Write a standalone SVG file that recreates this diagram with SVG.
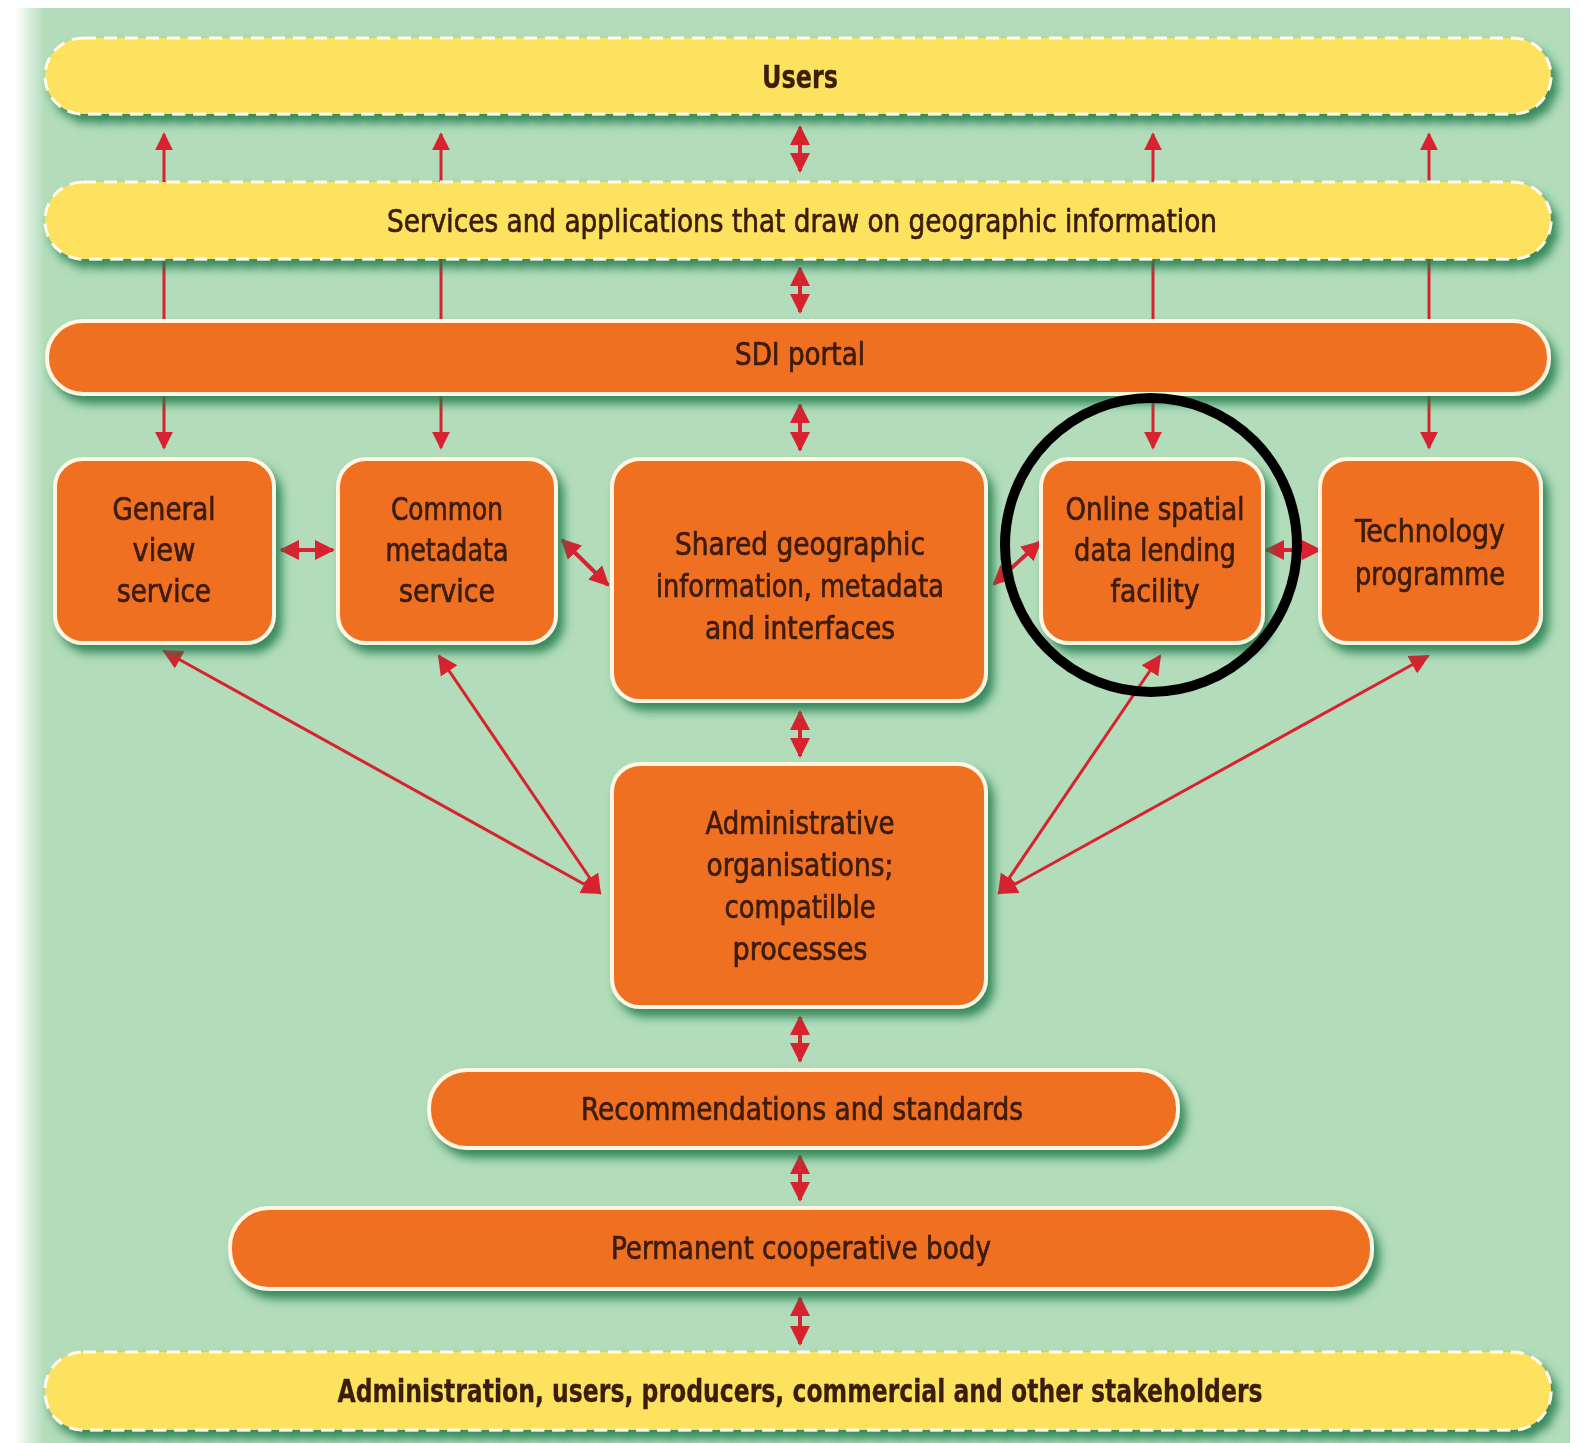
<svg xmlns="http://www.w3.org/2000/svg" width="1582" height="1443" viewBox="0 0 1582 1443">
<defs>
<style>
.bg{fill:#b2dcba}
.yb{fill:#fde25e;stroke:#fffbe8;stroke-width:3;stroke-dasharray:13 8}
.ob{fill:#f07022;stroke:#fff6e4;stroke-width:4}
.t{font-family:"DejaVu Sans Condensed","Liberation Sans",sans-serif;font-size:32px;fill:#3a1c0e;stroke:#3a1c0e;stroke-width:0.7;text-anchor:middle}
.b{font-weight:bold;stroke-width:0.3}
.c{stroke:#d8222f;stroke-width:3;fill:none}
.cc{stroke:#d8222f;stroke-width:4;fill:none}
</style>
<linearGradient id="lg" x1="0" x2="1" y1="0" y2="0">
<stop offset="0" stop-color="#ffffff"/><stop offset="1" stop-color="#b2dcba"/>
</linearGradient>
<filter id="sh" x="-10%" y="-20%" width="130%" height="160%">
<feDropShadow dx="6" dy="8" stdDeviation="5" flood-color="#1e7a4e" flood-opacity="0.85"/>
</filter>
<marker id="ah" viewBox="0 0 10 10" refX="9" refY="5" markerWidth="18" markerHeight="20" markerUnits="userSpaceOnUse" orient="auto-start-reverse">
<path d="M0,0 L10,5 L0,10 z" fill="#d8222f"/>
</marker>
<marker id="ahb" viewBox="0 0 10 10" refX="9" refY="5" markerWidth="20" markerHeight="22" markerUnits="userSpaceOnUse" orient="auto-start-reverse">
<path d="M0,0 L10,5 L0,10 z" fill="#d8222f"/>
</marker>
</defs>
<rect width="1582" height="1443" fill="#ffffff"/>
<rect x="15" y="8" width="1555" height="1435" class="bg"/>
<rect x="15" y="8" width="30" height="1435" fill="url(#lg)"/>

<g id="connectors">
<path class="c" d="M164,321 V134" marker-end="url(#ah)"/>
<path class="c" d="M441,321 V134" marker-end="url(#ah)"/>
<path class="c" d="M1153,321 V134" marker-end="url(#ah)"/>
<path class="c" d="M1429,321 V134" marker-end="url(#ah)"/>
<path class="c" d="M164,394 V448" marker-end="url(#ah)"/>
<path class="c" d="M441,394 V448" marker-end="url(#ah)"/>
<path class="c" d="M1153,394 V448" marker-end="url(#ah)"/>
<path class="c" d="M1429,394 V448" marker-end="url(#ah)"/>
<path class="cc" d="M800,127 V171" marker-start="url(#ahb)" marker-end="url(#ahb)"/>
<path class="cc" d="M800,268 V312" marker-start="url(#ahb)" marker-end="url(#ahb)"/>
<path class="cc" d="M800,405 V450" marker-start="url(#ahb)" marker-end="url(#ahb)"/>
<path class="cc" d="M800,712 V756" marker-start="url(#ahb)" marker-end="url(#ahb)"/>
<path class="cc" d="M800,1017 V1061" marker-start="url(#ahb)" marker-end="url(#ahb)"/>
<path class="cc" d="M800,1156 V1200" marker-start="url(#ahb)" marker-end="url(#ahb)"/>
<path class="cc" d="M800,1298 V1344" marker-start="url(#ahb)" marker-end="url(#ahb)"/>
<path class="cc" d="M281,550 H333" marker-start="url(#ahb)" marker-end="url(#ahb)"/>
<path class="cc" d="M562,540 L608,585" marker-start="url(#ahb)" marker-end="url(#ahb)"/>
<path class="cc" d="M994,584 L1040,542" marker-start="url(#ahb)" marker-end="url(#ahb)"/>
<path class="cc" d="M1266,550 H1320" marker-start="url(#ahb)" marker-end="url(#ahb)"/>
<path class="c" d="M164,651 L600,893" marker-start="url(#ahb)" marker-end="url(#ahb)"/>
<path class="c" d="M439,656 L600,893" marker-start="url(#ahb)" marker-end="url(#ahb)"/>
<path class="c" d="M1160,656 L999,893" marker-start="url(#ahb)" marker-end="url(#ahb)"/>
<path class="c" d="M1428,656 L999,893" marker-start="url(#ahb)" marker-end="url(#ahb)"/>
</g>

<g id="users" filter="url(#sh)">
<rect class="yb" x="45" y="38" width="1506" height="76" rx="38"/>
<text class="t b" x="800" y="88" textLength="76" lengthAdjust="spacingAndGlyphs">Users</text>
</g>
<g id="services" filter="url(#sh)">
<rect class="yb" x="45" y="182" width="1506" height="77" rx="38"/>
<text class="t" x="802" y="232" textLength="830" lengthAdjust="spacingAndGlyphs">Services and applications that draw on geographic information</text>
</g>
<g id="sdi-portal" filter="url(#sh)">
<rect class="ob" x="47" y="321" width="1502" height="73" rx="36"/>
<text class="t" x="800" y="365" textLength="130" lengthAdjust="spacingAndGlyphs">SDI portal</text>
</g>
<g id="general-view" filter="url(#sh)">
<rect class="ob" x="55" y="459" width="219" height="184" rx="28"/>
<text class="t" x="164" y="520" textLength="103" lengthAdjust="spacingAndGlyphs">General</text>
<text class="t" x="164" y="561" textLength="63" lengthAdjust="spacingAndGlyphs">view</text>
<text class="t" x="164" y="602" textLength="94" lengthAdjust="spacingAndGlyphs">service</text>
</g>
<g id="common-metadata" filter="url(#sh)">
<rect class="ob" x="338" y="459" width="218" height="184" rx="28"/>
<text class="t" x="447" y="520" textLength="112" lengthAdjust="spacingAndGlyphs">Common</text>
<text class="t" x="447" y="561" textLength="123" lengthAdjust="spacingAndGlyphs">metadata</text>
<text class="t" x="447" y="602" textLength="96" lengthAdjust="spacingAndGlyphs">service</text>
</g>
<g id="shared" filter="url(#sh)">
<rect class="ob" x="612" y="459" width="374" height="242" rx="28"/>
<text class="t" x="800" y="555" textLength="250" lengthAdjust="spacingAndGlyphs">Shared geographic</text>
<text class="t" x="800" y="597" textLength="288" lengthAdjust="spacingAndGlyphs">information, metadata</text>
<text class="t" x="800" y="639" textLength="190" lengthAdjust="spacingAndGlyphs">and interfaces</text>
</g>
<g id="online-lending" filter="url(#sh)">
<rect class="ob" x="1041" y="459" width="222" height="184" rx="28"/>
<text class="t" x="1155" y="520" textLength="179" lengthAdjust="spacingAndGlyphs">Online spatial</text>
<text class="t" x="1155" y="561" textLength="162" lengthAdjust="spacingAndGlyphs">data lending</text>
<text class="t" x="1155" y="602" textLength="89" lengthAdjust="spacingAndGlyphs">facility</text>
</g>
<g id="technology" filter="url(#sh)">
<rect class="ob" x="1320" y="459" width="221" height="184" rx="28"/>
<text class="t" x="1430" y="542" textLength="150" lengthAdjust="spacingAndGlyphs">Technology</text>
<text class="t" x="1430" y="585" textLength="150" lengthAdjust="spacingAndGlyphs">programme</text>
</g>
<g id="administrative" filter="url(#sh)">
<rect class="ob" x="612" y="764" width="374" height="243" rx="28"/>
<text class="t" x="800" y="834" textLength="189" lengthAdjust="spacingAndGlyphs">Administrative</text>
<text class="t" x="800" y="876" textLength="187" lengthAdjust="spacingAndGlyphs">organisations;</text>
<text class="t" x="800" y="918" textLength="151" lengthAdjust="spacingAndGlyphs">compatilble</text>
<text class="t" x="800" y="960" textLength="135" lengthAdjust="spacingAndGlyphs">processes</text>
</g>
<g id="recommendations" filter="url(#sh)">
<rect class="ob" x="429" y="1070" width="749" height="78" rx="38"/>
<text class="t" x="802" y="1120" textLength="442" lengthAdjust="spacingAndGlyphs">Recommendations and standards</text>
</g>
<g id="permanent" filter="url(#sh)">
<rect class="ob" x="230" y="1208" width="1142" height="81" rx="39"/>
<text class="t" x="801" y="1259" textLength="380" lengthAdjust="spacingAndGlyphs">Permanent cooperative body</text>
</g>
<g id="stakeholders" filter="url(#sh)">
<rect class="yb" x="45" y="1352" width="1506" height="78" rx="38"/>
<text class="t b" x="800" y="1402" textLength="925" lengthAdjust="spacingAndGlyphs">Administration, users, producers, commercial and other stakeholders</text>
</g>
<g id="highlight">
<ellipse cx="1151" cy="545" rx="146" ry="147" fill="none" stroke="#000" stroke-width="10"/>
</g>
</svg>
